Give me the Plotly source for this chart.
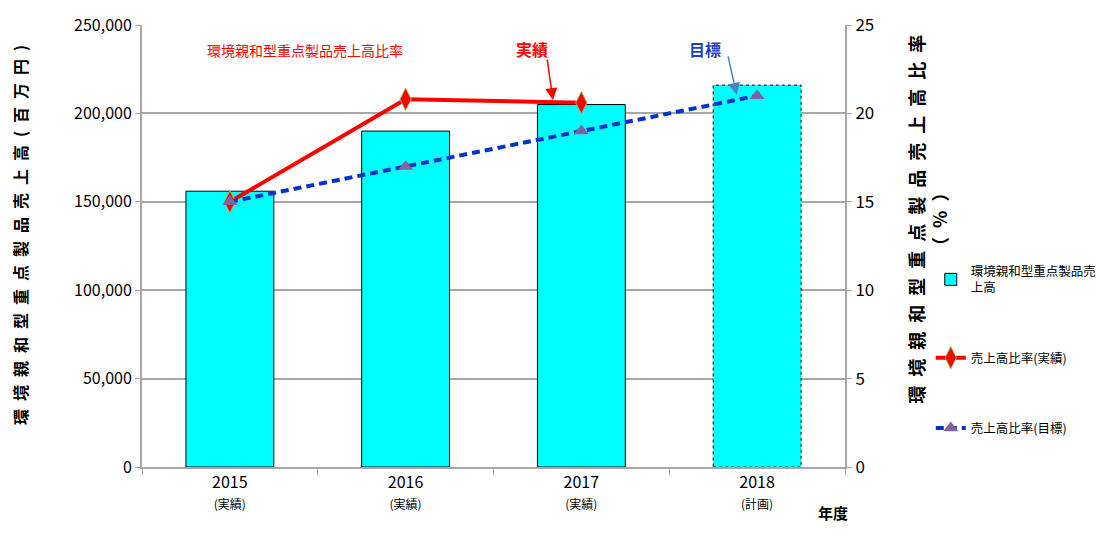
import plotly.graph_objects as go

# Fiscal years and their status labels
years = ["2015", "2016", "2017", "2018"]
status = ["(実績)", "(実績)", "(実績)", "(計画)"]

# Sales of environment-friendly key products (million yen)
sales = [156000, 190000, 205000, 216000]

# Sales ratio (%): actual results and targets
ratio_actual = [15.0, 20.8, 20.6]
ratio_target = [15.0, 17.0, 19.0, 21.0]

FONT = "Liberation Sans Narrow, Arial Narrow, Noto Sans CJK JP, sans-serif"
CJK = "Noto Sans CJK JP, sans-serif"
EN = "\u2002"

fig = go.Figure()

fig.add_trace(go.Bar(
    x=years, y=sales,
    name="環境親和型重点製品売<br>上高",
    marker=dict(color="#00FFFF",
                line=dict(color="#000000", width=[1, 1, 1, 0])),
    width=0.5,
    legendgroup="a",
))

fig.add_trace(go.Scatter(
    x=years[:len(ratio_actual)], y=ratio_actual, yaxis="y2",
    name="売上高比率(実績)",
    mode="lines+markers",
    line=dict(color="#FF0000", width=4),
    marker=dict(symbol="diamond-tall", size=16, color="#FF0000",
                line=dict(color="#9BBB59", width=1)),
    legendgroup="b",
))

fig.add_trace(go.Scatter(
    x=years, y=ratio_target, yaxis="y2",
    name="売上高比率(目標)",
    mode="lines+markers",
    line=dict(color="#0033CC", width=4, dash="8px,5px"),
    marker=dict(symbol="triangle-up", size=13, color="#8064A2"),
    legendgroup="c",
))

# Dashed outline for the planned year's bar
i_plan = len(years) - 1
fig.add_shape(type="rect", xref="x", yref="y",
              x0=i_plan - 0.25, x1=i_plan + 0.25, y0=0, y1=sales[i_plan],
              line=dict(color="#000000", width=1, dash="dot"),
              fillcolor="rgba(0,0,0,0)", layer="above")

ticktext = [f"{y}<br><span style='font-size:12px'>{s}</span>" for y, s in zip(years, status)]

fig.update_layout(
    width=1098, height=534,
    margin=dict(l=142, r=253, t=25, b=67, autoexpand=False),
    paper_bgcolor="white", plot_bgcolor="white",
    font=dict(family=FONT, size=15, color="#000000"),
    bargap=0.5,
    showlegend=True,
    legend=dict(x=1.122, y=0.476, xanchor="left", yanchor="top",
                font=dict(family=FONT, size=12.5),
                tracegroupgap=51, itemwidth=30,
                bgcolor="rgba(0,0,0,0)"),
    xaxis=dict(
        type="category", tickvals=years, ticktext=ticktext,
        tickson="boundaries", ticks="outside", ticklen=6,
        tickcolor="#A6A6A6", showline=True, linecolor="#A6A6A6", linewidth=2,
        showgrid=False, tickfont=dict(family=FONT, size=16),
        range=[-0.5, 3.5],
    ),
    yaxis=dict(
        range=[0, 250000], dtick=50000, tickformat=",d",
        showgrid=True, gridcolor="#A6A6A6", gridwidth=1.5,
        showline=True, linecolor="#A6A6A6", linewidth=2,
        ticks="outside", ticklen=5, tickcolor="#A6A6A6",
        tickfont=dict(family=FONT, size=16), zeroline=False,
    ),
    yaxis2=dict(
        range=[0, 25], dtick=5, overlaying="y", side="right",
        showgrid=False, showline=True, linecolor="#A6A6A6", linewidth=2,
        ticks="outside", ticklen=5, tickcolor="#A6A6A6",
        tickfont=dict(family=FONT, size=17), zeroline=False,
    ),
)

def spaced(s):
    return EN.join(s)

annotations = [
    # axis titles
    dict(text="<b>" + spaced("環境親和型重点製品売上高(百万円)") + "</b>", x=-0.1735, y=0.525,
         textangle=-90, font=dict(family=CJK, size=16, color="#000000")),
    dict(text="<b>" + spaced("環境親和型重点製品売上高比率") + "<br>" + spaced("（%）") + "</b>",
         x=1.117, y=0.56, textangle=-90,
         font=dict(family=CJK, size=18, color="#000000")),
    # headline labels
    dict(text="環境親和型重点製品売上高比率", x=0.232, y=0.943,
         font=dict(family=FONT, size=14, color="#FF0000")),
    dict(text="<b>実績</b>", x=0.5548, y=0.945,
         font=dict(family=FONT, size=16, color="#FF0000")),
    dict(text="<b>目標</b>", x=0.801, y=0.945,
         font=dict(family=FONT, size=16, color="#1F3FBF")),
    # year unit
    dict(text="<b>年度</b>", x=0.983, y=-0.104,
         font=dict(family=FONT, size=15, color="#000000")),
]
for a in annotations:
    a.update(xref="paper", yref="paper", showarrow=False,
             xanchor="center", yanchor="middle")

# pointer arrows
annotations += [
    dict(text="", x=0.5846, y=0.83, xref="paper", yref="paper",
         ax=-6, ay=-42, showarrow=True, arrowhead=2, arrowsize=1.6, arrowwidth=1.5,
         arrowcolor="#FF0000"),
    dict(text="", x=0.846, y=0.842, xref="paper", yref="paper",
         ax=-9, ay=-40, showarrow=True, arrowhead=2, arrowsize=1.6, arrowwidth=1.5,
         arrowcolor="#4F81BD"),
]
fig.update_layout(annotations=annotations)

fig.write_html("out.html")
